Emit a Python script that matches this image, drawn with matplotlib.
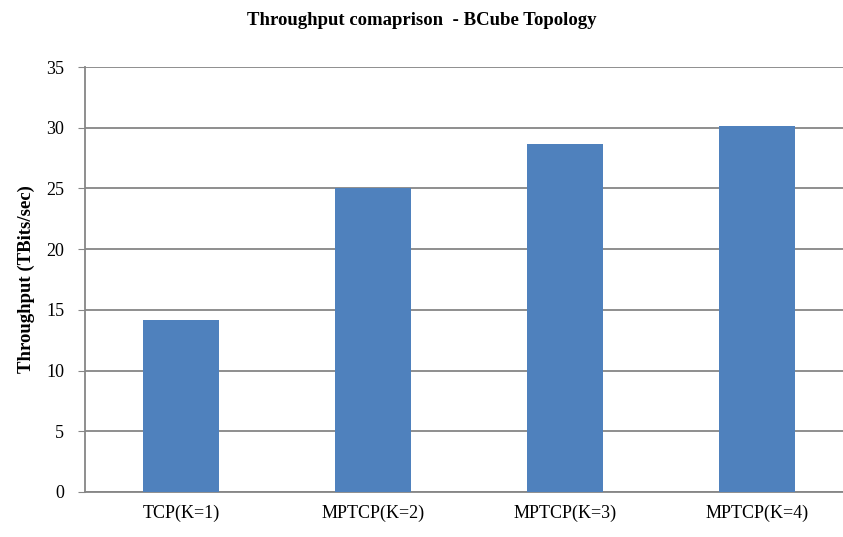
import matplotlib.pyplot as plt
import numpy as np

# Throughput comparison - BCube topology
categories = ['TCP(K=1)', 'MPTCP(K=2)', 'MPTCP(K=3)', 'MPTCP(K=4)']
throughput = [14.2, 25.0, 28.65, 30.15]
yticks = [0, 5, 10, 15, 20, 25, 30, 35]

plt.rcParams['font.family'] = ['Liberation Serif', 'DejaVu Serif']

fig = plt.figure(figsize=(8.43, 5.37), dpi=100)
# plot area runs a bit past the right edge, as in the original
ax = fig.add_axes([0.1008, 0.0838, 0.911, 0.7914])

x = np.arange(len(categories))
ax.bar(x, throughput, width=0.40, color='#4F81BD', zorder=3)

ax.set_xlim(-0.5, len(categories) - 0.5)
ax.set_ylim(0, 35)
ax.set_yticks(yticks)
ax.set_xticks(x)
ax.set_xticklabels(categories, fontsize=13)
ax.tick_params(axis='y', labelsize=13, length=5, color='#868686', pad=10)
ax.tick_params(axis='x', length=0, pad=9)

ax.yaxis.grid(True, color='#868686', linewidth=1.3, zorder=0)
for s in ['top', 'right']:
    ax.spines[s].set_visible(False)
for s in ['left', 'bottom']:
    ax.spines[s].set_color('#868686')
    ax.spines[s].set_linewidth(1.3)

ax.set_ylabel('Throughput (TBits/sec)', fontsize=13.5, fontweight='bold', labelpad=8)
fig.suptitle('Throughput comaprison  - BCube Topology', fontsize=13.5,
             fontweight='bold', y=0.978)

fig.savefig('out.png', dpi=100)
